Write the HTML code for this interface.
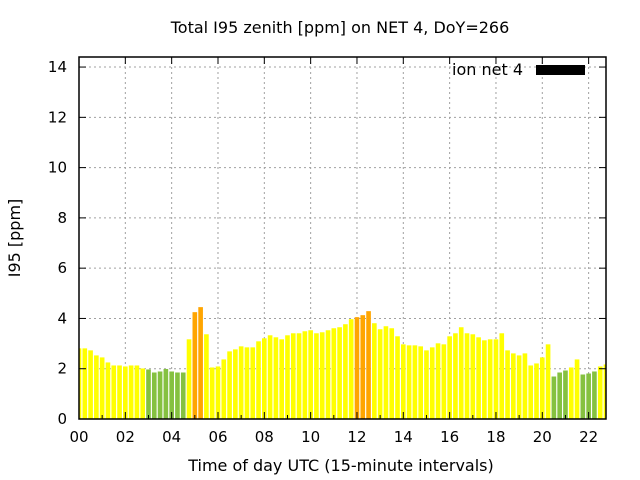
<!DOCTYPE html>
<html><head><meta charset="utf-8"><style>
body{margin:0;background:#fff;}
svg{display:block;font-family:"DejaVu Sans","Liberation Sans",sans-serif;}
</style></head><body>
<svg id="chart" width="640" height="480">
<text x="340" y="33" text-anchor="middle" font-size="16">Total I95 zenith [ppm] on NET 4, DoY=266</text>
<text x="341" y="471" text-anchor="middle" font-size="16">Time of day UTC (15-minute intervals)</text>
<text transform="translate(20,238) rotate(-90)" text-anchor="middle" font-size="16">I95 [ppm]</text>
<g id="grid"></g>
<g id="bars"></g>
<g id="axes"></g>
<g>
<text x="523" y="75" text-anchor="end" font-size="16">ion net 4</text>
<rect x="536" y="65" width="49" height="10" fill="#000"/>
</g>
</svg>
<script>
const values = [2.81,2.81,2.73,2.53,2.45,2.25,2.13,2.13,2.09,2.13,2.13,2.01,1.97,1.85,1.89,1.99,1.89,1.85,1.85,3.17,4.25,4.45,3.37,2.05,2.09,2.37,2.69,2.77,2.89,2.85,2.85,
3.09,3.21,3.33,3.25,3.17,3.33,3.41,3.41,3.49,3.53,3.41,3.45,3.53,3.61,3.65,3.77,3.97,4.05,4.13,4.29,3.81,3.57,3.69,3.61,3.29,2.97,2.93,2.93,2.89,
2.73,2.85,3.01,2.97,3.29,3.41,3.65,3.41,3.37,3.25,3.13,3.17,3.17,3.41,2.73,2.61,2.53,2.61,2.13,2.21,2.45,2.97,1.69,1.85,1.93,2.05,2.37,1.77,1.81,1.89,2.09,2.17];
const yTicks = [0,2,4,6,8,10,12,14];
const xTicks = [0,2,4,6,8,10,12,14,16,18,20,22];
const xTickLabels = ["00","02","04","06","08","10","12","14","16","18","20","22"];
const L=79,R=606,T=57,B=419, XMAX=22.75, YMAX=14.4;
const xs=h=>L+h/XMAX*(R-L);
const ys=v=>B-v/YMAX*(B-T);
const NS="http://www.w3.org/2000/svg";
function mk(tag,attrs,parent){const e=document.createElementNS(NS,tag);for(const k in attrs)e.setAttribute(k,attrs[k]);parent.appendChild(e);return e;}
const grid=document.getElementById('grid'),bars=document.getElementById('bars'),axes=document.getElementById('axes');
yTicks.forEach(v=>{
 if(v>0){const g=mk('line',{x1:L,x2:R,y1:ys(v),y2:ys(v),stroke:'#a0a0a0','stroke-dasharray':'2,3'},grid);
 
 }
 const tk=mk('line',{x1:L,x2:L+7,y1:ys(v),y2:ys(v),stroke:'#000'},axes);
 
 
 const tk2=mk('line',{x1:R,x2:R-7,y1:ys(v),y2:ys(v),stroke:'#000'},axes);
 
 
 const t=mk('text',{x:L-12,y:ys(v)+5,'text-anchor':'end','font-size':15},axes);t.textContent=v;
 
 
});
xTicks.forEach((h,i)=>{
 if(h>0){const g=mk('line',{x1:xs(h),x2:xs(h),y1:T,y2:B,stroke:'#a0a0a0','stroke-dasharray':'2,3'},grid);
 
 }
 const tk=mk('line',{x1:xs(h),x2:xs(h),y1:B,y2:B-7,stroke:'#000'},axes);
 
 
 const tk2=mk('line',{x1:xs(h),x2:xs(h),y1:T,y2:T+7,stroke:'#000'},axes);
 
 
 const t=mk('text',{x:xs(h),y:B+23,'text-anchor':'middle','font-size':15},axes);t.textContent=xTickLabels[i];
 
 
});
for(let h=1;h<XMAX;h+=2){
 const m=mk('line',{x1:xs(h),x2:xs(h),y1:B,y2:B-4,stroke:'#000'},axes);
 
 
}
values.forEach((v,i)=>{
 const c=i*0.25, w=0.2;
 let x0=Math.max(L,xs(c-w/2)), x1=Math.min(R,xs(c+w/2));
 const col=v<2?'#85c140':(v>4?'#ffa500':'#ffff00');
 const r=mk('rect',{x:x0,y:ys(v),width:Math.max(0,x1-x0),height:B-ys(v),fill:col},bars);
 
 
});
const f=mk('rect',{x:L,y:T,width:R-L,height:B-T,fill:'none',stroke:'#000','stroke-width':1.5},axes);


</script>
</body></html>
